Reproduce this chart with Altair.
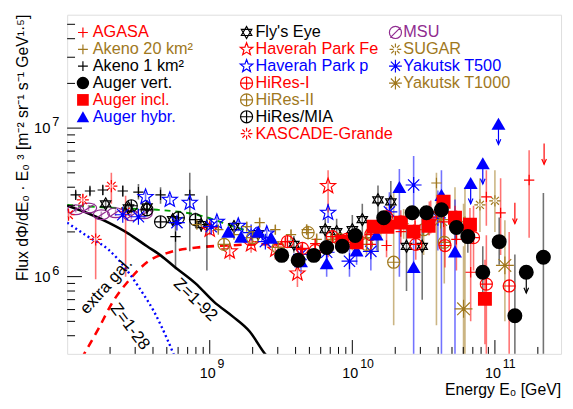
import math
import altair as alt
import pandas as pd

# ---------------- values ----------------
# energy as lg(E/GeV); flux dPhi/dE*E^3 in units of 1e6 m^-2 sr^-1 s^-1 GeV^1.5

AGASA_lgE = [9.53, 9.64, 9.74, 9.83, 9.93, 10.03, 10.13, 10.24, 10.34, 10.44, 10.54, 10.64, 10.73, 10.83, 10.94, 11.04, 11.24]
AGASA_F = [1.72, 1.52, 1.67, 1.52, 1.70, 1.78, 1.65, 1.62, 2.01, 2.20, 2.49, 2.34, 1.78, 1.07, 3.44, 2.69, 4.47]
AGASA_lo = [1.62, 1.42, 1.55, 1.35, 1.50, 1.55, 1.40, 1.35, 1.65, 1.75, 1.90, 1.70, 1.10, 0.50, 2.20, 1.40, 1.83]
AGASA_hi = [1.82, 1.62, 1.80, 1.70, 1.90, 2.05, 1.95, 1.95, 2.45, 2.75, 3.20, 3.20, 2.80, 2.00, 5.20, 4.60, 7.10]

AKENO20_lgE = [8.91, 9.06, 9.17, 9.26, 9.35, 9.46, 9.57, 9.68, 9.75, 9.85, 10.0, 10.1, 10.2, 10.36, 10.59, 10.79]
AKENO20_F = [2.24, 2.07, 1.92, 2.17, 2.31, 2.07, 1.92, 2.07, 1.78, 1.78, 1.70, 1.83, 2.14, 2.27, 4.27, 2.34]
AKENO20_lo = [2.10, 1.95, 1.80, 2.03, 2.15, 1.92, 1.77, 1.90, 1.62, 1.60, 1.50, 1.58, 1.80, 1.80, 0.47, 0.30]
AKENO20_hi = [2.40, 2.20, 2.05, 2.32, 2.48, 2.23, 2.08, 2.25, 1.96, 1.98, 1.92, 2.10, 2.55, 2.85, 5.00, 4.00]

AKENO1_lgE = [8.06, 8.16, 8.25, 8.39, 8.50, 8.655, 8.76, 8.86, 8.98]
AKENO1_F = [3.55, 3.77, 3.83, 3.77, 3.71, 3.55, 1.86, 3.55, 2.24]
AKENO1_lo = [3.35, 3.55, 3.55, 3.45, 3.30, 3.10, 1.12, 1.48, 1.10]
AKENO1_hi = [3.75, 4.00, 4.10, 4.10, 4.20, 4.00, 2.40, 5.00, 3.50]

AUGV_lgE = [9.505, 9.62, 9.73, 9.82, 9.93, 10.02, 10.22, 10.42, 10.52, 10.625, 10.73, 10.81, 10.915, 11.03, 11.14, 11.34]
AUGV_F = [1.39, 1.29, 1.39, 1.57, 1.60, 1.89, 2.49, 2.69, 2.69, 2.82, 2.14, 1.86, 1.07, 1.72, 0.545, 1.35]
AUGV_lo = [1.33, 1.24, 1.33, 1.50, 1.52, 1.78, 2.30, 2.45, 2.40, 2.45, 1.75, 1.45, 0.70, 1.20, 0.10, 0.10]
AUGV_hi = [1.45, 1.34, 1.46, 1.65, 1.69, 2.00, 2.70, 2.95, 3.00, 3.25, 2.60, 2.40, 1.60, 2.50, 1.41, 3.66]

AUGI_lgE = [9.93, 10.03, 10.15, 10.245, 10.34, 10.43, 10.535, 10.64, 10.72, 10.825, 10.93]
AUGI_F = [1.72, 1.70, 2.17, 2.17, 2.31, 2.01, 2.20, 3.19, 2.49, 2.24, 0.708]
AUGI_lo = [1.64, 1.62, 2.05, 2.03, 2.10, 1.80, 1.90, 2.80, 2.05, 1.70, 0.35]
AUGI_hi = [1.80, 1.79, 2.30, 2.32, 2.55, 2.25, 2.55, 3.65, 3.00, 2.90, 1.30]

AUGH_lgE = [9.13, 9.22, 9.34, 9.43, 9.64, 9.82, 10.03, 10.17, 10.33, 10.43, 10.625, 10.72]
AUGH_F = [2.01, 1.86, 2.01, 1.83, 1.27, 1.23, 1.50, 1.92, 4.01, 1.16, 3.55, 1.48]
AUGH_lo = [1.90, 1.76, 1.90, 1.72, 1.05, 1.00, 1.20, 1.50, 1.00, 0.10, 0.10, 0.10]
AUGH_hi = [2.12, 1.97, 2.13, 1.95, 1.50, 1.50, 1.85, 2.40, 5.30, 1.85, 5.20, 3.30]

FLY_lgE = [8.27, 8.43, 8.56, 8.74, 8.94, 9.17, 9.34, 9.59, 9.81, 9.89, 10.0, 10.07, 10.18, 10.27, 10.38, 10.49]
FLY_F = [3.09, 2.90, 2.95, 2.42, 2.24, 2.17, 1.95, 1.65, 2.07, 2.01, 2.07, 2.42, 3.29, 3.19, 1.60, 1.60]
FLY_lo = [2.90, 2.70, 2.70, 2.20, 2.00, 1.95, 1.75, 1.45, 1.75, 1.65, 1.65, 1.90, 1.48, 2.30, 0.80, 0.70]
FLY_hi = [3.30, 3.10, 3.20, 2.65, 2.50, 2.40, 2.17, 1.88, 2.45, 2.45, 2.60, 3.10, 4.10, 4.40, 2.60, 2.80]

HPFE_lgE = [9.0, 9.14, 9.29, 9.46, 9.615, 9.83]
HPFE_F = [2.07, 1.48, 1.65, 1.52, 1.05, 4.07]
HPFE_lo = [1.90, 1.30, 1.45, 1.30, 0.85, 2.70]
HPFE_hi = [2.25, 1.68, 1.88, 1.78, 1.30, 5.20]

HPP_lgE = [8.55, 8.72, 8.86, 9.05, 9.2, 9.4, 9.83]
HPP_F = [3.44, 3.29, 3.14, 2.34, 2.20, 1.95, 2.69]
HPP_lo = [3.20, 3.05, 2.90, 2.15, 2.02, 1.78, 2.30]
HPP_hi = [3.70, 3.55, 3.40, 2.55, 2.40, 2.14, 3.10]

HIRES1_lgE = [9.545, 9.65, 9.74, 9.86, 9.96, 10.13, 10.24, 10.34, 10.445, 10.55, 10.65, 10.85, 10.94, 11.1]
HIRES1_F = [1.72, 1.55, 1.50, 1.86, 1.78, 1.92, 2.53, 2.34, 1.65, 2.53, 1.62, 1.83, 0.89, 0.865]
HIRES1_lo = [1.60, 1.43, 1.37, 1.68, 1.58, 1.68, 2.15, 1.95, 1.30, 1.95, 1.15, 1.10, 0.30, 0.30]
HIRES1_hi = [1.85, 1.68, 1.64, 2.06, 2.00, 2.20, 2.95, 2.80, 2.10, 3.25, 2.25, 3.00, 1.90, 2.00]

HIRES2_lgE = [9.1, 9.3, 9.48, 9.69, 9.91, 10.1, 10.29, 10.5, 10.645, 10.72]
HIRES2_F = [1.65, 1.83, 1.57, 1.98, 1.78, 1.65, 1.25, 2.07, 1.70, 2.42]
HIRES2_lo = [1.50, 1.68, 1.42, 1.78, 1.55, 1.38, 0.47, 1.40, 0.90, 1.40]
HIRES2_hi = [1.80, 2.00, 1.73, 2.20, 2.05, 1.97, 3.66, 3.00, 3.00, 4.00]

MIA_lgE = [8.45, 8.56, 8.655, 8.78, 8.9]
MIA_F = [3.00, 2.82, 2.34, 2.49, 2.42]
MIA_lo = [2.85, 2.65, 2.15, 2.25, 2.15]
MIA_hi = [3.15, 3.00, 2.55, 2.75, 2.70]

KG_lgE = [8.01, 8.11, 8.2, 8.31, 8.41]
KG_F = [2.61, 3.29, 1.78, 4.07, 2.73]
KG_lo = [2.45, 3.00, 0.96, 3.10, 1.00]
KG_hi = [2.78, 3.60, 2.50, 5.00, 3.50]

MSU_lgE = [8.06, 8.15, 8.24, 8.34, 8.45, 8.54]
MSU_F = [2.82, 2.90, 2.61, 2.69, 2.57, 2.65]
MSU_lo = [2.70, 2.77, 2.48, 2.55, 2.42, 2.48]
MSU_hi = [2.95, 3.03, 2.75, 2.84, 2.73, 2.83]

SUGAR_lgE = [10.78, 10.895, 11.0]
SUGAR_F = [2.30, 3.04, 3.24]
SUGAR_lo = [1.70, 2.00, 2.00]
SUGAR_hi = [3.10, 4.60, 5.20]

YAK500_lgE = [8.39, 8.5, 8.77, 9.01, 9.29, 9.39, 9.64, 9.82, 9.98, 10.13, 10.26, 10.43, 10.6]
YAK500_F = [2.61, 2.53, 2.31, 2.17, 1.98, 1.72, 1.41, 1.46, 1.27, 1.48, 2.73, 4.14, 2.49]
YAK500_lo = [2.50, 2.42, 2.20, 2.06, 1.86, 1.60, 1.28, 1.28, 1.00, 1.10, 2.00, 2.50, 1.50]
YAK500_hi = [2.72, 2.65, 2.43, 2.29, 2.10, 1.85, 1.55, 1.67, 1.60, 2.00, 3.70, 6.50, 3.80]

YAK1000_lgE = [10.62, 10.78, 11.07]
YAK1000_F = [2.42, 0.607, 1.19]
YAK1000_lo = [1.50, 0.30, 0.50]
YAK1000_hi = [3.60, 1.60, 2.40]

# upper limits (drawn with down arrows)
UL_series = ["Auger hybr.", "Auger hybr.", "Auger hybr.", "AGASA", "AGASA", "Auger vert."]
UL_lgE = [10.83, 10.915, 11.025, 11.14, 11.345, 11.22]
UL_F = [4.27, 5.80, 10.7, 3.14, 7.88, 1.07]

# model curves
Z92_lgE = [8.0, 8.15, 8.29, 8.43, 8.56, 8.66, 8.75, 8.9, 9.03, 9.16, 9.28, 9.39, 9.45]
Z92_F = [3.00, 2.66, 2.31, 1.95, 1.60, 1.38, 1.17, 0.90, 0.676, 0.54, 0.427, 0.30, 0.26]
Z28_lgE = [8.0, 8.15, 8.29, 8.43, 8.52, 8.61, 8.70, 8.76]
Z28_F = [2.31, 1.85, 1.52, 1.07, 0.80, 0.58, 0.383, 0.28]
EXG_lgE = [8.10, 8.22, 8.32, 8.44, 8.56, 8.72, 8.91, 9.12, 9.33, 9.55]
EXG_F = [0.28, 0.447, 0.676, 0.96, 1.25, 1.46, 1.57, 1.62, 1.65, 1.66]
TOT_lgE = [8.0, 8.2, 8.4, 8.63, 8.91, 9.19, 9.46]
TOT_F = [3.04, 2.95, 2.88, 2.82, 2.61, 2.14, 1.78]

# ---------------- styles ----------------
RED = "#ff0000"
BROWN = "#a0781e"
BLUE = "#0000ff"
BLACK = "#000000"
PURPLE = "#902c90"
GREEN = "#00a000"

CIRC = "M1,0A1,1,0,1,1,-1,0A1,1,0,1,1,1,0Z"
PLUS = "M-1,0L1,0M0,-1L0,1"
OPLUS = CIRC + "M-1,0L1,0M0,-1L0,1"
OSLASH = CIRC + "M-0.85,0.85L0.85,-0.85"
ELLSLASH = "M1,0A1,0.6,0,1,1,-1,0A1,0.6,0,1,1,1,0ZM-0.75,0.5L0.75,-0.5"
DAVID = "M0,-1L0.866,0.5L-0.866,0.5ZM0,1L0.866,-0.5L-0.866,-0.5Z"


def star_path(n=5, r_in=0.42):
    pts = []
    for i in range(2 * n):
        r = 1.0 if i % 2 == 0 else r_in
        a = -math.pi / 2 + i * math.pi / n
        pts.append(f"{r * math.cos(a):.3f},{r * math.sin(a):.3f}")
    return "M" + "L".join(pts) + "Z"


def asterisk(r_in=0.0):
    s = ""
    for k in range(8):
        a = k * math.pi / 4
        c, si = math.cos(a), math.sin(a)
        s += f"M{r_in * c:.3f},{r_in * si:.3f}L{c:.3f},{si:.3f}"
    return s


STAR = star_path()
AST = asterisk(0.0)
OAST = asterisk(0.35)
ARROWHEAD = "M-0.45,-1L0,0L0.45,-1"

# name: (color, plot shape, legend shape, plot size, legend size, filled)
STYLE = {
    "AGASA": (RED, PLUS, PLUS, 110, 100, False),
    "Akeno 20 km²": (BROWN, PLUS, PLUS, 110, 100, False),
    "Akeno 1 km²": (BLACK, PLUS, PLUS, 110, 100, False),
    "Auger vert.": (BLACK, "circle", "circle", 230, 160, True),
    "Auger incl.": (RED, "square", "square", 200, 140, True),
    "Auger hybr.": (BLUE, "triangle-up", "triangle-up", 200, 160, True),
    "Fly's Eye": (BLACK, DAVID, DAVID, 150, 150, False),
    "Haverah Park Fe": (RED, STAR, STAR, 260, 180, False),
    "Haverah Park p": (BLUE, STAR, STAR, 260, 180, False),
    "HiRes-I": (RED, OPLUS, OPLUS, 150, 150, False),
    "HiRes-II": (BROWN, OPLUS, OPLUS, 150, 150, False),
    "HiRes/MIA": (BLACK, OPLUS, OPLUS, 150, 150, False),
    "KASCADE-Grande": (RED, OAST, OAST, 150, 140, False),
    "MSU": (PURPLE, ELLSLASH, OSLASH, 270, 150, False),
    "SUGAR": (BROWN, OAST, OAST, 130, 140, False),
    "Yakutsk T500": (BLUE, AST, AST, 260, 170, False),
    "Yakutsk T1000": (BROWN, AST, AST, 330, 170, False),
}

SERIES = [
    ("MSU", MSU_lgE, MSU_F, MSU_lo, MSU_hi),
    ("KASCADE-Grande", KG_lgE, KG_F, KG_lo, KG_hi),
    ("Akeno 1 km²", AKENO1_lgE, AKENO1_F, AKENO1_lo, AKENO1_hi),
    ("HiRes/MIA", MIA_lgE, MIA_F, MIA_lo, MIA_hi),
    ("Fly's Eye", FLY_lgE, FLY_F, FLY_lo, FLY_hi),
    ("Haverah Park p", HPP_lgE, HPP_F, HPP_lo, HPP_hi),
    ("Haverah Park Fe", HPFE_lgE, HPFE_F, HPFE_lo, HPFE_hi),
    ("Yakutsk T500", YAK500_lgE, YAK500_F, YAK500_lo, YAK500_hi),
    ("Yakutsk T1000", YAK1000_lgE, YAK1000_F, YAK1000_lo, YAK1000_hi),
    ("SUGAR", SUGAR_lgE, SUGAR_F, SUGAR_lo, SUGAR_hi),
    ("Akeno 20 km²", AKENO20_lgE, AKENO20_F, AKENO20_lo, AKENO20_hi),
    ("HiRes-II", HIRES2_lgE, HIRES2_F, HIRES2_lo, HIRES2_hi),
    ("HiRes-I", HIRES1_lgE, HIRES1_F, HIRES1_lo, HIRES1_hi),
    ("AGASA", AGASA_lgE, AGASA_F, AGASA_lo, AGASA_hi),
    ("Auger hybr.", AUGH_lgE, AUGH_F, AUGH_lo, AUGH_hi),
    ("Auger incl.", AUGI_lgE, AUGI_F, AUGI_lo, AUGI_hi),
    ("Auger vert.", AUGV_lgE, AUGV_F, AUGV_lo, AUGV_hi),
]

rows = []
for order, (name, le, f, lo, hi) in enumerate(SERIES):
    col, shp, _, sz, _, filled = STYLE[name]
    for a, b, c, d in zip(le, f, lo, hi):
        rows.append(dict(series=name, order=order, E=10 ** a, F=b * 1e6, lo=c * 1e6,
                         hi=d * 1e6, color=col, shape=shp, size=sz, filled=filled))
df = pd.DataFrame(rows)

ul_rows = []
for name, a, b in zip(UL_series, UL_lgE, UL_F):
    col, shp, _, sz, _, filled = STYLE[name]
    ul_rows.append(dict(series=name, E=10 ** a, F=b * 1e6, Fend=b * 1e6 / 1.38,
                        color=col, shape=shp, size=sz, filled=filled))
ul = pd.DataFrame(ul_rows)


def curve(le, f):
    return pd.DataFrame({"E": [10 ** v for v in le], "F": [v * 1e6 for v in f]})


# ---------------- layout ----------------
W, H = 501, 344
XDOM = [1e8, 2.91e11]
YDOM = [3.02e5, 5.8e7]
FONT = "Liberation Sans"


def X(field="E"):
    return alt.X(f"{field}:Q", scale=alt.Scale(type="log", domain=XDOM, nice=False), axis=None)


def Y(field="F"):
    return alt.Y(f"{field}:Q", scale=alt.Scale(type="log", domain=YDOM, nice=False), axis=None)


NONE = dict(scale=None)

errbars = alt.Chart(df).mark_rule(clip=True, strokeWidth=1.6, opacity=0.55).encode(
    x=X(), y=Y("lo"), y2="hi:Q", color=alt.Color("color:N", **NONE))

open_pts = alt.Chart(df[~df.filled]).mark_point(clip=True, filled=False, opacity=1, strokeWidth=1.2).encode(
    x=X(), y=Y(), shape=alt.Shape("shape:N", **NONE), color=alt.Color("color:N", **NONE),
    size=alt.Size("size:Q", **NONE), order="order:Q")

fill_pts = alt.Chart(df[df.filled]).mark_point(clip=True, filled=True, opacity=1, strokeWidth=0).encode(
    x=X(), y=Y(), shape=alt.Shape("shape:N", **NONE), color=alt.Color("color:N", **NONE),
    size=alt.Size("size:Q", **NONE))

ul_line = alt.Chart(ul).mark_rule(clip=True, strokeWidth=1.2).encode(
    x=X(), y=Y(), y2="Fend:Q", color=alt.Color("color:N", **NONE))
ul_head = alt.Chart(ul).mark_point(clip=True, filled=False, opacity=1, strokeWidth=1.2, shape=ARROWHEAD, size=110).encode(
    x=X(), y=Y("Fend"), color=alt.Color("color:N", **NONE))
ul_pts = alt.Chart(ul).mark_point(clip=True, filled=True, opacity=1, strokeWidth=0).encode(
    x=X(), y=Y(), shape=alt.Shape("shape:N", **NONE), color=alt.Color("color:N", **NONE),
    size=alt.Size("size:Q", **NONE))

c_z92 = alt.Chart(curve(Z92_lgE, Z92_F)).mark_line(clip=True, color=BLACK, strokeWidth=2.6, interpolate="monotone").encode(x=X(), y=Y())
c_z28 = alt.Chart(curve(Z28_lgE, Z28_F)).mark_line(clip=True, color=BLUE, strokeWidth=2.4, strokeDash=[2, 3], interpolate="monotone").encode(x=X(), y=Y())
c_exg = alt.Chart(curve(EXG_lgE, EXG_F)).mark_line(clip=True, color=RED, strokeWidth=2.6, strokeDash=[8, 6], interpolate="monotone").encode(x=X(), y=Y())
c_tot = alt.Chart(curve(TOT_lgE, TOT_F)).mark_line(clip=True, color=GREEN, strokeWidth=2, strokeDash=[6, 5], interpolate="monotone").encode(x=X(), y=Y())

# curve labels
LBL_text = ["extra gal.", "Z=1-28", "Z=1-92"]
LBL_lgE = [8.275, 8.44, 8.90]
LBL_F = [0.865, 0.46, 0.697]
LBL_ang = [312, 53, 44]
lbl_layers = []
for t, a, b, ang in zip(LBL_text, LBL_lgE, LBL_F, LBL_ang):
    d = pd.DataFrame({"E": [10 ** a], "F": [b * 1e6], "t": [t]})
    lbl_layers.append(alt.Chart(d).mark_text(font=FONT, fontSize=17, angle=ang, align="center", baseline="middle", color=BLACK).encode(
        x=X(), y=Y(), text="t:N"))

# axis ticks (inward, ROOT style)
XMAJ = [1e9, 1e10, 1e11]
XMIN = [m * 10 ** k for k in (8, 9, 10) for m in range(2, 10)] + [2e11]
YMAJ = [1e6, 1e7]
YMIN = [m * 1e5 for m in range(4, 10)] + [m * 1e6 for m in range(2, 10)] + [m * 1e7 for m in range(2, 6)]

xt_maj = alt.Chart(pd.DataFrame({"E": XMAJ})).mark_rule(color=BLACK, strokeWidth=1).encode(x=X(), y=alt.value(H), y2=alt.value(H - 14))
xt_min = alt.Chart(pd.DataFrame({"E": XMIN})).mark_rule(color=BLACK, strokeWidth=1).encode(x=X(), y=alt.value(H), y2=alt.value(H - 7))
yt_maj = alt.Chart(pd.DataFrame({"F": YMAJ})).mark_rule(color=BLACK, strokeWidth=1).encode(y=Y(), x=alt.value(0), x2=alt.value(15))
yt_min = alt.Chart(pd.DataFrame({"F": YMIN})).mark_rule(color=BLACK, strokeWidth=1).encode(y=Y(), x=alt.value(0), x2=alt.value(8))

XLAB = pd.DataFrame({"E": XMAJ, "base": ["10", "10", "10"], "exp": ["9", "10", "11"]})
YLAB = pd.DataFrame({"F": YMAJ, "base": ["10", "10"], "exp": ["6", "7"]})
xl_base = alt.Chart(XLAB).mark_text(font=FONT, fontSize=14.5, align="right", baseline="alphabetic", dx=6).encode(
    x=X(), y=alt.value(H + 24), text="base:N")
xl_exp = alt.Chart(XLAB).mark_text(font=FONT, fontSize=12.5, align="left", baseline="alphabetic", dx=8).encode(
    x=X(), y=alt.value(H + 14), text="exp:N")
yl_base = alt.Chart(YLAB).mark_text(font=FONT, fontSize=15, align="right", baseline="middle", dx=-17).encode(
    y=Y(), x=alt.value(0), text="base:N")
yl_exp = alt.Chart(YLAB).mark_text(font=FONT, fontSize=13, align="left", baseline="middle", dx=-15, dy=-6).encode(
    y=Y(), x=alt.value(0), text="exp:N")

ytitle = alt.Chart(pd.DataFrame({"t": ["Flux dΦ/dE₀ · E₀ ³ [m⁻² sr⁻¹ s⁻¹ GeV¹·⁵]"]})).mark_text(
    font=FONT, fontSize=16, angle=270, align="right", baseline="alphabetic").encode(
    x=alt.value(-40), y=alt.value(0), text="t:N")
xtitle = alt.Chart(pd.DataFrame({"t": ["Energy E₀ [GeV]"]})).mark_text(
    font=FONT, fontSize=16, align="right", baseline="alphabetic").encode(
    x=alt.value(W), y=alt.value(H + 41.5), text="t:N")

# legend (three columns)
LEG_cols = [
    ["AGASA", "Akeno 20 km²", "Akeno 1 km²", "Auger vert.", "Auger incl.", "Auger hybr."],
    ["Fly's Eye", "Haverah Park Fe", "Haverah Park p", "HiRes-I", "HiRes-II", "HiRes/MIA", "KASCADE-Grande"],
    ["MSU", "SUGAR", "Yakutsk T500", "Yakutsk T1000"],
]
SYM_X = [16, 182, 333]
TXT_X = [26, 191, 341]
leg_rows = []
for ci, names in enumerate(LEG_cols):
    for ri, name in enumerate(names):
        col, _, lshp, _, lsz, filled = STYLE[name]
        leg_rows.append(dict(label=name, color=col, shape=lshp, size=lsz, filled=filled,
                             sx=SYM_X[ci], tx=TXT_X[ci], py=18 + 17.1 * ri))
leg = pd.DataFrame(leg_rows)
leg_txt = alt.Chart(leg).mark_text(font=FONT, fontSize=16.5, align="left", baseline="middle").encode(
    x=alt.X("tx:Q", **NONE), y=alt.Y("py:Q", **NONE), text="label:N", color=alt.Color("color:N", **NONE))
leg_open = alt.Chart(leg[~leg.filled]).mark_point(filled=False, opacity=1, strokeWidth=1.2).encode(
    x=alt.X("sx:Q", **NONE), y=alt.Y("py:Q", **NONE), shape=alt.Shape("shape:N", **NONE),
    color=alt.Color("color:N", **NONE), size=alt.Size("size:Q", **NONE))
leg_fill = alt.Chart(leg[leg.filled]).mark_point(filled=True, opacity=1, strokeWidth=0).encode(
    x=alt.X("sx:Q", **NONE), y=alt.Y("py:Q", **NONE), shape=alt.Shape("shape:N", **NONE),
    color=alt.Color("color:N", **NONE), size=alt.Size("size:Q", **NONE))

chart = alt.layer(
    c_tot, c_exg, c_z28, c_z92,
    errbars, open_pts, fill_pts, ul_line, ul_head, ul_pts,
    *lbl_layers,
    xt_maj, xt_min, yt_maj, yt_min, xl_base, xl_exp, yl_base, yl_exp, ytitle, xtitle,
    leg_txt, leg_open, leg_fill,
).resolve_scale(
    x="independent", y="independent", color="independent", shape="independent", size="independent"
).properties(
    width=W, height=H, autosize=alt.AutoSizeParams(type="none"),
    padding={"left": 60, "top": 4, "right": 4, "bottom": 45},
).configure_view(stroke=BLACK, strokeWidth=1.5).configure(background="white")

chart.save("out.html", embed_options={"renderer": "svg", "actions": False})
